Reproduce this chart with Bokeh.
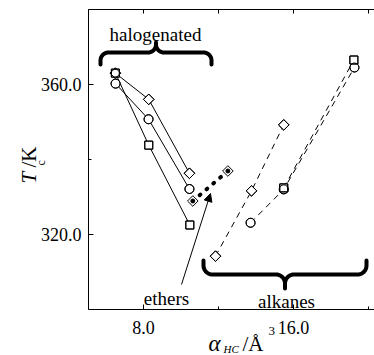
import numpy as np
from bokeh.plotting import figure
from bokeh.models import (Range1d, LinearAxis, FixedTicker, Label, Arrow,
                          NormalHead, PrintfTickFormatter)
from bokeh.embed import file_html
from bokeh.resources import INLINE

# ---------------- data ----------------
halo_diamond_x = [6.50, 8.28, 10.45]
halo_diamond_y = [362.9, 355.9, 336.2]
halo_circle_x = [6.51, 8.27, 10.45]
halo_circle_y = [360.1, 350.6, 332.0]
halo_square_x = [6.50, 8.28, 10.47]
halo_square_y = [362.9, 343.7, 322.4]

ether_x = [10.63, 12.50]
ether_y = [328.8, 336.8]

alk_diamond_x = [11.84, 13.76, 15.48]
alk_diamond_y = [314.1, 331.5, 349.1]
alk_circle_x = [13.71, 15.48, 19.25]
alk_circle_y = [323.0, 331.9, 364.4]
alk_square_x = [15.48, 19.22]
alk_square_y = [332.3, 366.4]

x_major = [8, 16]
x_minor = [12, 20]
y_major = [320, 360]
y_minor = [300, 340, 380]
x_tick_labels = {8: "8.0", 16: "16.0"}
y_tick_labels = {320: "320.0", 360: "360.0"}
y_axis_bounds = (300, 380)

# ---------------- geometry (frame = whole canvas) ----------------
W, H = 374, 355
XS, YS = 18.75, 3.75                 # px per unit
XL = 8 - 143 / XS
XR = XL + W / XS
YT = 360 + 83.5 / YS
YB = YT - H / YS


def dx(px):
    return XL + px / XS


def dy(py):
    return YT - py / YS


AX_LEFT = dx(88)

SERIF = "Liberation Serif"

p = figure(width=W, height=H, x_range=Range1d(XL, XR), y_range=Range1d(YB, YT),
           output_backend="svg", toolbar_location=None,
           x_axis_type=None, y_axis_type=None, min_border=0)
p.min_border_left = p.min_border_right = p.min_border_top = p.min_border_bottom = 0
p.outline_line_color = None
p.background_fill_color = "white"
p.border_fill_color = "white"


def style_axis(ax, standoff=9):
    ax.axis_line_color = "black"
    ax.axis_line_width = 1
    ax.major_tick_in = 5
    ax.major_tick_out = 0
    ax.minor_tick_in = 3
    ax.minor_tick_out = 0
    ax.major_tick_line_color = "black"
    ax.minor_tick_line_color = "black"
    ax.major_label_text_font = SERIF
    ax.major_label_text_color = "black"
    ax.major_label_standoff = standoff
    ax.major_label_text_font_size = "18px"


xb = LinearAxis(ticker=FixedTicker(ticks=x_major, minor_ticks=x_minor),
                formatter=PrintfTickFormatter(format="%.1f"),
                major_label_overrides=x_tick_labels,
                fixed_location=y_axis_bounds[0], bounds=(AX_LEFT, XR))
style_axis(xb, standoff=12)
p.add_layout(xb, "below")

yl = LinearAxis(ticker=FixedTicker(ticks=y_major, minor_ticks=y_minor),
                formatter=PrintfTickFormatter(format="%.1f"),
                major_label_overrides=y_tick_labels,
                fixed_location=AX_LEFT, bounds=y_axis_bounds)
style_axis(yl, standoff=7)
p.add_layout(yl, "left")

# top axis: ticks only (all given as minor ticks, so no labels are produced)
xt = LinearAxis(ticker=FixedTicker(ticks=[], minor_ticks=x_major + x_minor),
                fixed_location=y_axis_bounds[1], bounds=(AX_LEFT, XR))
style_axis(xt, standoff=0)
xt.minor_tick_in = 4
p.add_layout(xt, "above")

# ---------------- lines ----------------
for xs, ys in [(halo_diamond_x, halo_diamond_y), (halo_circle_x, halo_circle_y),
               (halo_square_x, halo_square_y)]:
    p.line(xs, ys, line_color="black", line_width=1)

for xs, ys in [(alk_diamond_x, alk_diamond_y), (alk_circle_x, alk_circle_y),
               (alk_square_x, alk_square_y)]:
    p.line(xs, ys, line_color="black", line_width=1, line_dash="6 5")

p.line(ether_x, ether_y, line_color="black", line_width=4, line_dash="1 8",
       line_cap="round")

# ---------------- markers ----------------
diam_x = halo_diamond_x + alk_diamond_x
diam_y = halo_diamond_y + alk_diamond_y
circ_x = halo_circle_x + alk_circle_x
circ_y = halo_circle_y + alk_circle_y
sq_x = halo_square_x + alk_square_x
sq_y = halo_square_y + alk_square_y

for fill in ["white", None]:
    p.scatter(circ_x, circ_y, marker="circle", size=9, fill_color=fill,
              line_color="black", line_width=1)
    p.scatter(diam_x, diam_y, marker="square", angle=np.pi / 4, size=7.5,
              fill_color=fill, line_color="black", line_width=1)
    p.scatter(sq_x, sq_y, marker="square", size=8, fill_color=fill,
              line_color="black", line_width=1)

p.scatter(ether_x, ether_y, marker="square", angle=np.pi / 4, size=7.5,
          fill_color="white", line_color="black", line_width=1)
p.scatter(ether_x, ether_y, marker="circle", size=4, fill_color="black",
          line_color="black")

# ---------------- braces ----------------


def brace_px(xa, xb_, ybar, e, r, end_len, tip_len):
    xm = (xa + xb_) / 2.0
    t = np.linspace(0, np.pi / 2, 14)
    left = [(xa, ybar + e * end_len)]
    cx, cy = xa + r, ybar + e * r
    left += list(zip(cx - r * np.cos(t), cy - e * r * np.sin(t)))
    cx, cy = xm - r, ybar - e * r
    left += list(zip(cx + r * np.sin(t), cy + e * r * np.cos(t)))
    left.append((xm, ybar - e * tip_len))
    right = [(2 * xm - x, y) for (x, y) in reversed(left[:-1])]
    pts = left + right
    return [dx(x) for x, _ in pts], [dy(y) for _, y in pts]


bx, by = brace_px(100, 211, 52, +1, 8, 12, 10)
p.line(bx, by, line_color="black", line_width=4, line_cap="round",
       line_join="round")
bx, by = brace_px(203, 366, 274, -1, 9, 14, 14)
p.line(bx, by, line_color="black", line_width=4, line_cap="round",
       line_join="round")

# ---------------- annotations ----------------


def lab(px, py, text, size, style="normal", align="left", angle=0.0):
    p.add_layout(Label(x=dx(px), y=dy(py), text=text, text_font=SERIF,
                       text_font_size=f"{size}px", text_font_style=style,
                       text_align=align, text_baseline="alphabetic",
                       text_color="black", angle=angle))


lab(155, 34, "halogenated", 19, align="center")
lab(286, 301, "alkanes", 19, align="center")
lab(166, 298, "ethers", 19, align="center")

p.add_layout(Arrow(x_start=dx(181), y_start=dy(284), x_end=dx(210), y_end=dy(193),
                   line_color="black", line_width=1,
                   end=NormalHead(size=8, fill_color="black", line_color="black")))

# y axis label: T_c /K (rotated)
lab(28, 183, "T", 21, style="italic", angle=np.pi / 2)
lab(40, 165, "c", 12, angle=np.pi / 2)
lab(28, 167, "/K", 21, angle=np.pi / 2)

# x axis label: alpha_HC /Å^3
lab(208, 343, "α", 23, style="italic")
lab(223, 348, "HC", 11, style="italic")
lab(242, 343, "/Å", 21)
lab(268, 330, "3", 13)

open("out.html", "w").write(file_html(p, INLINE))
